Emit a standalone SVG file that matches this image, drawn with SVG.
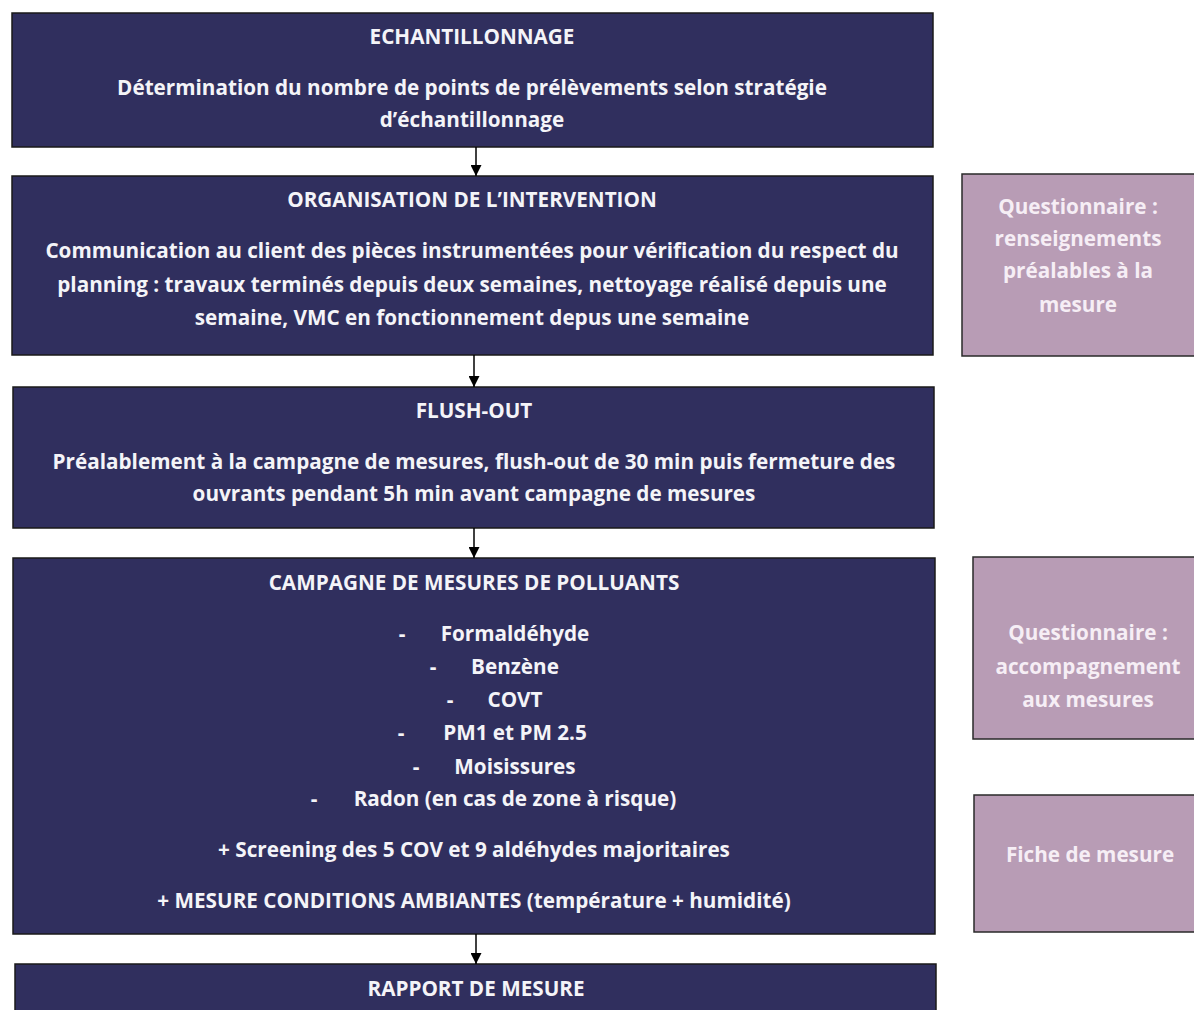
<svg xmlns="http://www.w3.org/2000/svg" width="1194" height="1010" viewBox="0 0 1194 1010">
<defs>
<marker id="ah" markerWidth="11" markerHeight="11" refX="11" refY="5.5" orient="auto" markerUnits="userSpaceOnUse" viewBox="0 0 11 11">
<path d="M0,0 L11,5.5 L0,11 Z" fill="#000"/>
</marker>
<style>
.main{fill:#302f5e;stroke:#1a1a1a;stroke-width:1.5}
.side{fill:#b89cb5;stroke:#2a2a2a;stroke-width:1.5}
text{font-family:"Open Sans","Liberation Sans",sans-serif;font-weight:bold;font-size:20.7px;fill:#f4f4f8;text-anchor:middle}
.st{fill:#f6eef5}
.conn line{stroke:#000;stroke-width:1.5;marker-end:url(#ah)}
</style>
</defs>
<rect width="1194" height="1010" fill="#fff"/>
<g id="echantillonnage">
<rect class="main" x="12" y="13" width="921" height="134"/>
<text x="472" y="44">ECHANTILLONNAGE</text>
<text x="472" y="95">Détermination du nombre de points de prélèvements selon stratégie</text>
<text x="472" y="127">d’échantillonnage</text>
</g>
<g id="organisation">
<rect class="main" x="12" y="176" width="921" height="179"/>
<text x="472" y="207">ORGANISATION DE L’INTERVENTION</text>
<text x="472" y="258">Communication au client des pièces instrumentées pour vérification du respect du</text>
<text x="472" y="292">planning : travaux terminés depuis deux semaines, nettoyage réalisé depuis une</text>
<text x="472" y="325">semaine, VMC en fonctionnement depus une semaine</text>
</g>
<g id="flushout">
<rect class="main" x="13" y="387" width="921" height="141"/>
<text x="474" y="418">FLUSH-OUT</text>
<text x="474" y="469">Préalablement à la campagne de mesures, flush-out de 30 min puis fermeture des</text>
<text x="474" y="501">ouvrants pendant 5h min avant campagne de mesures</text>
</g>
<g id="campagne">
<rect class="main" x="13" y="558" width="922" height="376"/>
<text x="474" y="590">CAMPAGNE DE MESURES DE POLLUANTS</text>
<text x="402" y="641">-</text><text x="515" y="641">Formaldéhyde</text>
<text x="433" y="674">-</text><text x="515" y="674">Benzène</text>
<text x="450" y="707">-</text><text x="515" y="707">COVT</text>
<text x="401" y="740">-</text><text x="515" y="740">PM1 et PM 2.5</text>
<text x="416" y="774">-</text><text x="515" y="774">Moisissures</text>
<text x="314" y="806">-</text><text x="515" y="806">Radon (en cas de zone à risque)</text>
<text x="474" y="857">+ Screening des 5 COV et 9 aldéhydes majoritaires</text>
<text x="474" y="908">+ MESURE CONDITIONS AMBIANTES (température + humidité)</text>
</g>
<g id="rapport">
<rect class="main" x="15" y="964" width="921" height="60"/>
<text x="476" y="996">RAPPORT DE MESURE</text>
</g>
<g id="q-renseignements">
<rect class="side" x="962" y="174" width="240" height="182"/>
<text class="st" x="1078" y="214">Questionnaire :</text>
<text class="st" x="1078" y="246">renseignements</text>
<text class="st" x="1078" y="278">préalables à la</text>
<text class="st" x="1078" y="312">mesure</text>
</g>
<g id="q-accompagnement">
<rect class="side" x="973" y="557" width="230" height="182"/>
<text class="st" x="1088" y="640">Questionnaire :</text>
<text class="st" x="1088" y="674">accompagnement</text>
<text class="st" x="1088" y="707">aux mesures</text>
</g>
<g id="fiche">
<rect class="side" x="974" y="795" width="230" height="137"/>
<text class="st" x="1090" y="862">Fiche de mesure</text>
</g>
<g id="connectors" class="conn">
<line x1="476" y1="147" x2="476" y2="176"/>
<line x1="474" y1="355" x2="474" y2="387"/>
<line x1="474" y1="528" x2="474" y2="558"/>
<line x1="476" y1="934" x2="476" y2="964"/>
</g>
</svg>
